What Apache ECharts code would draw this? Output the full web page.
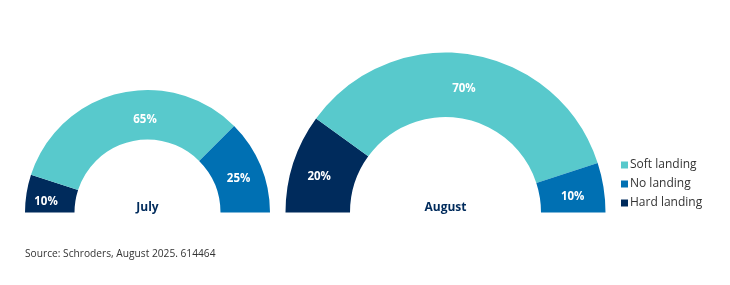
<!DOCTYPE html>
<html><head><meta charset="utf-8">
<script src="https://cdn.jsdelivr.net/npm/echarts@6/dist/echarts.min.js"></script>
<style>html,body{margin:0;padding:0;background:#fff}#c{width:730px;height:285px}</style>
</head><body><div id="c"></div>
<script>
var categories = ['Hard landing', 'Soft landing', 'No landing'];
var julyValues = [10, 65, 25];
var augustValues = [20, 70, 10];
var panelTitles = ['July', 'August'];
var legendOrder = ['Soft landing', 'No landing', 'Hard landing'];
var colors = {'Hard landing': '#002B5C', 'Soft landing': '#58C9CC', 'No landing': '#0070B3'};
var FONT = '"Open Sans", "Noto Sans", sans-serif';

function mk(values, special) {
  return categories.map(function (c, i) {
    var d = {name: c, value: values[i], itemStyle: {color: colors[c]}};
    if (special && special[i]) d.label = {offset: special[i]};
    return d;
  });
}
function pie(values, center, radius, special) {
  return {
    type: 'pie', startAngle: 180, endAngle: 360, center: center, radius: radius,
    avoidLabelOverlap: false, silent: true,
    itemStyle: {borderWidth: 0},
    label: {show: true, position: 'inside', formatter: '{c}%', color: '#fff',
      fontFamily: FONT, fontSize: 11.5, fontWeight: 'bold', offset: [-2, 5]},
    labelLine: {show: false},
    data: mk(values, special)
  };
}
var chart = echarts.init(document.getElementById('c'));
chart.setOption({
  animation: false,
  legend: {
    orient: 'vertical', left: 616, top: 154, itemGap: 7,
    icon: 'rect', itemWidth: 7, itemHeight: 7,
    data: legendOrder,
    textStyle: {fontFamily: FONT, fontSize: 12, color: '#333', padding: [0, 0, 0, -3]}
  },
  graphic: [
    {type: 'text', left: 25, top: 249, style: {text: 'Source: Schroders, August 2025. 614464', font: '10.2px ' + FONT, fill: '#333'}},
    {type: 'text', x: 147.5, y: 208, style: {text: panelTitles[0], font: 'bold 12px ' + FONT, fill: '#002B5C', align: 'center', verticalAlign: 'middle'}},
    {type: 'text', x: 445.5, y: 208, style: {text: panelTitles[1], font: 'bold 12px ' + FONT, fill: '#002B5C', align: 'center', verticalAlign: 'middle'}}
  ],
  series: [
    pie(julyValues, [147.5, 212.5], [73, 122.5], [null, [21, 5], null]),
    pie(augustValues, [445.5, 212.5], [95.5, 160])
  ]
});
</script></body></html>
